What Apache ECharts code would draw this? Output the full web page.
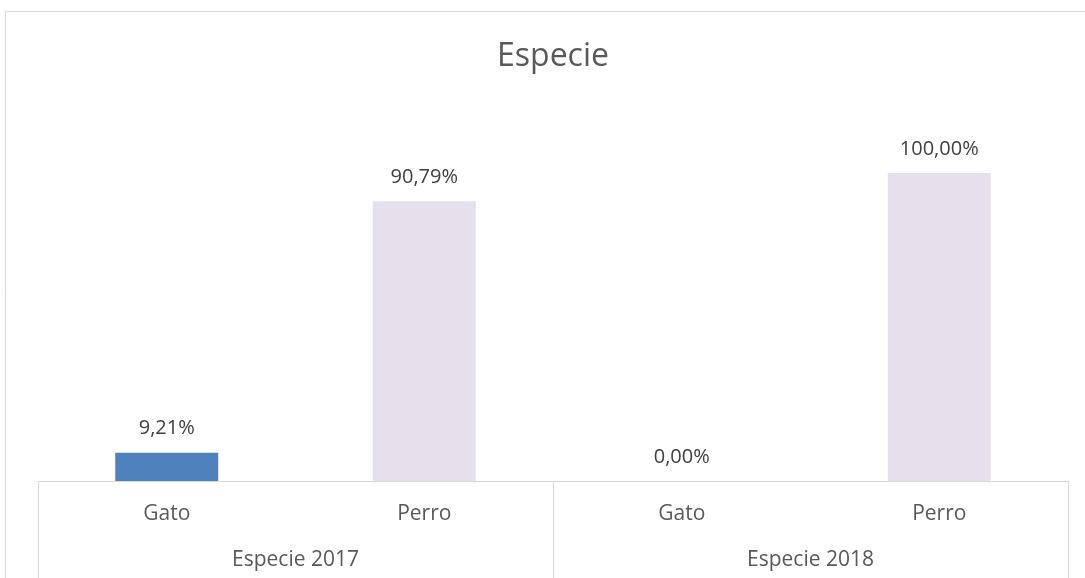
<!DOCTYPE html>
<html>
<head>
<meta charset="utf-8" />
<title>Especie</title>
<script src="https://cdn.jsdelivr.net/npm/echarts@6/dist/echarts.min.js"></script>
<style>
  html, body { margin: 0; padding: 0; background: #fff; }
  #chart { width: 1085px; height: 578px; }
</style>
</head>
<body>
<div id="chart"></div>
<script>
// datos
var especies = ['Gato', 'Perro', 'Gato', 'Perro'];
var grupos = ['Especie 2017', 'Especie 2018'];
var porcentajes = [9.21, 90.79, 0.00, 100.00];
var colores = ['#4f81bd', '#e6e0ec', '#4f81bd', '#e6e0ec'];

var myChart = echarts.init(document.getElementById('chart'));

var fuente = '"Open Sans", "Liberation Sans", sans-serif';

var option = {
  animation: false,
  title: {
    text: 'Especie',
    left: 548,
    textAlign: 'center',
    top: 36,
    textStyle: { fontFamily: fuente, fontSize: 32, fontWeight: 'normal', color: '#595959' }
  },
  // marco del gráfico
  graphic: [{
    type: 'rect',
    shape: { x: 5.5, y: 11.5, width: 1200, height: 700 },
    style: { fill: 'none', stroke: '#d9d9d9', lineWidth: 1 },
    silent: true
  }],
  grid: { left: 38, right: 17, top: 173, bottom: 97 },
  xAxis: [{
    type: 'category',
    data: especies,
    position: 'bottom',
    axisLine: { show: true, lineStyle: { color: '#d9d9d9', width: 1 } },
    axisTick: { show: false },
    axisLabel: { margin: 23, fontFamily: fuente, fontSize: 21, color: '#595959' }
  }, {
    type: 'category',
    data: grupos,
    position: 'bottom',
    axisLine: { show: false },
    axisTick: { show: true, length: 110, lineStyle: { color: '#d9d9d9', width: 1 } },
    axisLabel: { margin: 69, fontFamily: fuente, fontSize: 21, color: '#595959' }
  }],
  yAxis: {
    type: 'value',
    min: 0,
    max: 100,
    show: false,
    splitLine: { show: false }
  },
  series: [{
    type: 'bar',
    xAxisIndex: 0,
    barCategoryGap: '60%',
    data: porcentajes.map(function (v, i) {
      return { value: v, itemStyle: { color: colores[i] } };
    }),
    label: {
      show: true,
      position: 'top',
      distance: 14,
      fontFamily: fuente,
      fontSize: 20,
      color: '#404040',
      formatter: function (p) {
        return p.value.toFixed(2).replace('.', ',') + '%';
      }
    }
  }]
};

myChart.setOption(option);
</script>
</body>
</html>
